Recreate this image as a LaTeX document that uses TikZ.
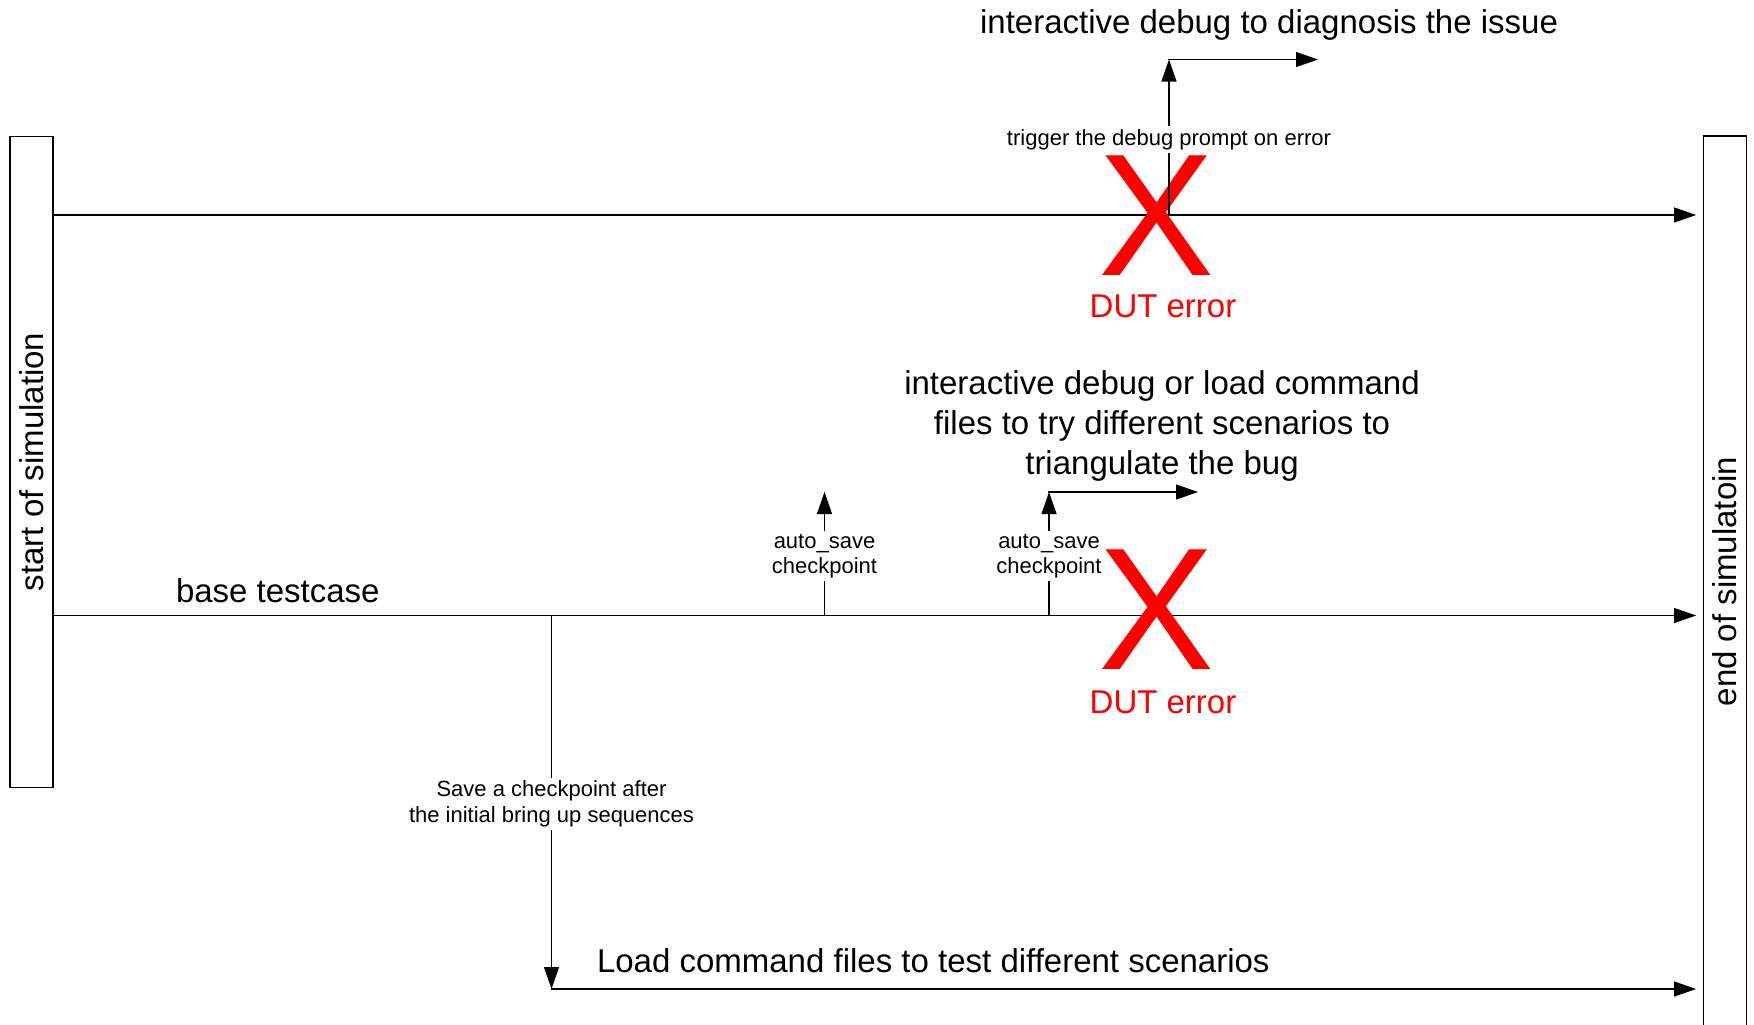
\documentclass[tikz,border=0pt]{standalone}
\usepackage{fontspec}
\setmainfont{Liberation Sans}
\usepackage{graphicx}
\usepackage{tikz}
\usetikzlibrary{arrows.meta}

\begin{document}
\begin{tikzpicture}[x=0.5pt,y=-0.5pt,line cap=rect,
		simbox/.style={draw, line width=0.7pt, inner sep=0pt, font=\visiofontA},
		lane/.style={line width=0.6pt},
		arr/.style={lane, -{Triangle[length=11pt,width=7.5pt]}},
		bigtext/.style={inner sep=0, outer sep=0, font=\visiofontA, align=center},
		smalltext/.style={inner sep=1.5pt, fill=white, font=\visiofontB, align=center, yshift=-1.2pt},
		errmark/.style={inner sep=0, outer sep=0, text=custcol_ff_0_0, font=\visiofontC},
		errtext/.style={inner sep=0, outer sep=0, text=custcol_ff_0_0, font=\visiofontA}]
				\def\visiofontA{\fontsize{16.5pt}{20pt}\selectfont}
				\def\visiofontB{\fontsize{11pt}{12.9pt}\selectfont}
				\def\visiofontC{\fontsize{87pt}{87pt}\selectfont} % big cross for the error marks
				\definecolor{custcol_ff_0_0}{RGB}{255, 0, 0}
				\useasboundingbox (0,0) rectangle (1754,1024);
				\node[simbox, minimum width=21.5pt, minimum height=325.5pt] (start) at (31.5,462) {\rotatebox{90}{start of simulation}};
				\node[simbox, minimum width=21.25pt, minimum height=445.5pt] (finish) at (1725,581.5) {\rotatebox{90}{end of simulatoin}};
				\coordinate (toplane) at (0,215);
				\coordinate (midlane) at (0,615.5);
				\coordinate (bring) at (551.5,615.5);
				\coordinate (loadlane) at (551.5,989);
				\coordinate (save1) at (824.5,615.5);
				\coordinate (save1up) at (824.5,492);
				\coordinate (save2) at (1049,615.5);
				\coordinate (save2up) at (1049,492);
				\coordinate (triang) at (1198,492);
				\coordinate (trig) at (1169,215);
				\coordinate (trigup) at (1169,59.5);
				\coordinate (diag) at (1318,59.5);
				\draw[arr, shorten >=3.5pt] (start.east |- toplane) -- (finish.west |- toplane);
				\draw[arr, shorten >=3.5pt] (start.east |- midlane) -- (finish.west |- midlane);
				\draw[arr] (bring) -- node[smalltext, yshift=0.4pt] (bringtxt) {Save a checkpoint after\\the initial bring up sequences} (loadlane);
				\draw[arr, shorten >=3.5pt] (loadlane) -- (finish.west |- loadlane);
				\node[errmark] (err1) at (1157,215.5) {X};
				\node[errtext, anchor=base] (err1txt) at (1163,317) {DUT error};
				\node[errmark] (err2) at (1157,610) {X};
				\node[errtext, anchor=base] (err2txt) at (1163,713) {DUT error};
				\draw[arr] (save1) -- node[smalltext] (save1txt) {auto\_save\\checkpoint} (save1up);
				\draw[arr] (save2) -- node[smalltext] (save2txt) {auto\_save\\checkpoint} (save2up);
				\draw[arr] (save2up) -- (triang);
				\draw[arr] (trig) -- node[smalltext] (trigtxt) {trigger the debug prompt on error} (trigup);
				\draw[arr] (trigup) -- (diag);
				\node[bigtext, anchor=base] (diagtxt) at (1269,33.3) {interactive debug to diagnosis the issue};
				\node[bigtext] (triangtxt) at (1162,425.5) {interactive debug or load command\\files to try different scenarios to\\triangulate the bug};
				\node[bigtext, anchor=base west] (basetxt) at (176,602) {base testcase};
				\node[bigtext, anchor=base west] (loadtxt) at (597,972.5) {Load command files to test different scenarios};
			\end{tikzpicture}
\end{document}
